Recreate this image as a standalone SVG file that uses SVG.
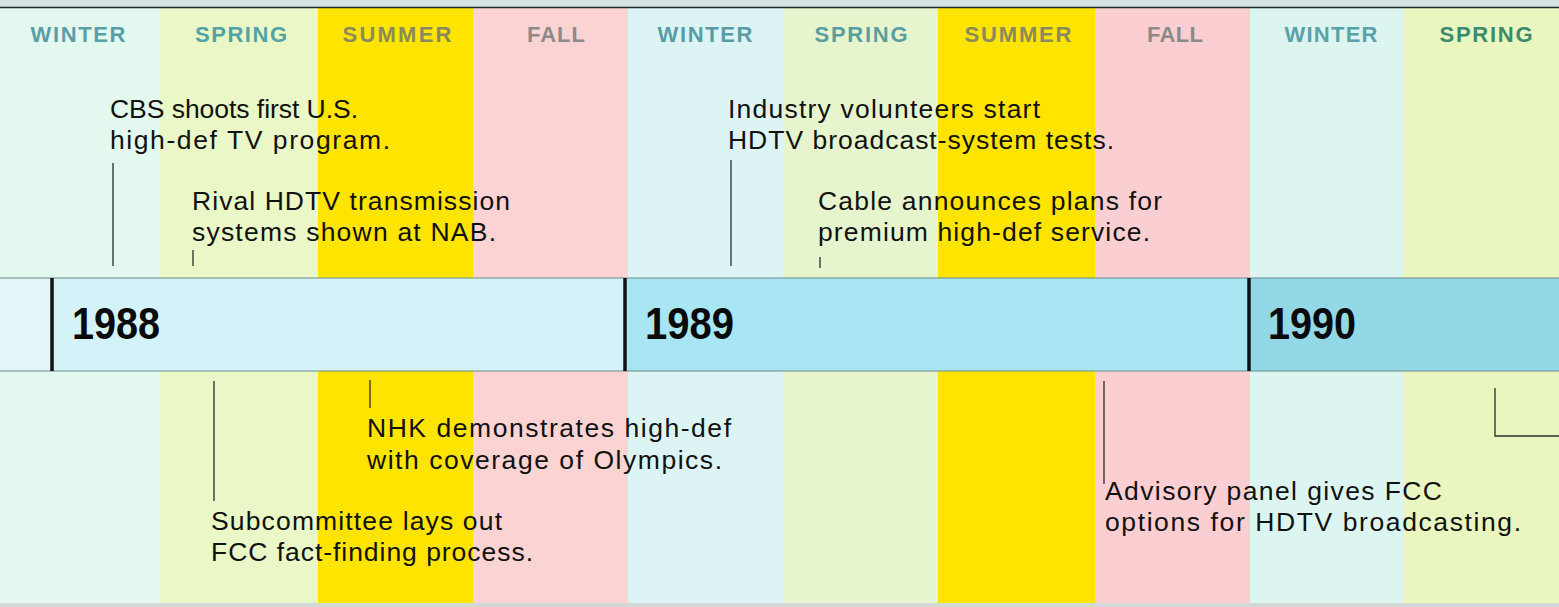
<svg xmlns="http://www.w3.org/2000/svg" width="1559" height="607" viewBox="0 0 1559 607">
  <style>
    .season { font-family: "Liberation Sans", Arial, sans-serif; font-weight: bold; font-size: 22px; text-anchor: middle; }
    .event { font-family: "Liberation Sans", Arial, sans-serif; font-size: 26.5px; fill: #111; }
    .year { font-family: "Liberation Sans", Arial, sans-serif; font-weight: bold; font-size: 44px; fill: #0a0a0a; }
    .lead { stroke: #2a2a2a; stroke-width: 1.3; fill: none; }
    .tick { stroke: #111; stroke-width: 3.5; }
  </style>

  <!-- season columns -->
  <g id="seasons">
    <rect x="0" y="0" width="160" height="607" fill="#e3f8ee"/>
    <rect x="160" y="0" width="158" height="607" fill="#eaf7c6"/>
    <rect x="318" y="0" width="155" height="607" fill="#ffe400"/>
    <rect x="473" y="0" width="155" height="607" fill="#fbd3d3"/>
    <rect x="628" y="0" width="155" height="607" fill="#dcf4f3"/>
    <rect x="783" y="0" width="155" height="607" fill="#e6f5cd"/>
    <rect x="938" y="0" width="157" height="607" fill="#ffe400"/>
    <rect x="1095" y="0" width="155" height="607" fill="#fbcfd1"/>
    <rect x="1250" y="0" width="153" height="607" fill="#dcf5f1"/>
    <rect x="1403" y="0" width="156" height="607" fill="#eaf6c0"/>
  </g>

  <!-- top and bottom edges -->
  <rect x="0" y="0" width="1559" height="7" fill="#d6e2e4"/>
  <line x1="0" y1="7.5" x2="1559" y2="7.5" stroke="#1e2a2a" stroke-width="1.6"/>
  <rect x="0" y="603" width="1559" height="4" fill="#d4d8d6"/>

  <!-- season labels -->
  <g id="season-labels">
    <text class="season" x="78" y="42" textLength="95" fill="#5a9fa8">WINTER</text>
    <text class="season" x="241" y="42" textLength="92" fill="#52a2a6">SPRING</text>
    <text class="season" x="397" y="42" textLength="109" fill="#8a8a5c">SUMMER</text>
    <text class="season" x="556" y="42" textLength="58" fill="#8c8a8a">FALL</text>
    <text class="season" x="705" y="42" textLength="95" fill="#5a9ca6">WINTER</text>
    <text class="season" x="861" y="42" textLength="93" fill="#5a9ea0">SPRING</text>
    <text class="season" x="1018" y="42" textLength="107" fill="#8a8a5c">SUMMER</text>
    <text class="season" x="1175" y="42" textLength="56" fill="#8c8a8a">FALL</text>
    <text class="season" x="1331" y="42" textLength="93" fill="#5aa2a8">WINTER</text>
    <text class="season" x="1486" y="42" textLength="93" fill="#3d8a6c">SPRING</text>
  </g>

  <!-- year band -->
  <g id="year-band">
    <rect x="0" y="278" width="52" height="93" fill="#e2f6f8"/>
    <rect x="52" y="278" width="573" height="93" fill="#d4f3f9"/>
    <rect x="625" y="278" width="624" height="93" fill="#a8e6f3"/>
    <rect x="1249" y="278" width="310" height="93" fill="#93d8e6"/>
    <line x1="0" y1="278" x2="1559" y2="278" stroke="#6a8a88" stroke-width="1"/>
    <line x1="0" y1="371" x2="1559" y2="371" stroke="#6a8a88" stroke-width="1"/>
  </g>

  <g id="y1988">
    <line class="tick" x1="52" y1="278" x2="52" y2="371"/>
    <text class="year" x="72" y="339" textLength="88" lengthAdjust="spacingAndGlyphs">1988</text>
  </g>
  <g id="y1989">
    <line class="tick" x1="625" y1="278" x2="625" y2="371"/>
    <text class="year" x="645" y="339" textLength="89" lengthAdjust="spacingAndGlyphs">1989</text>
  </g>
  <g id="y1990">
    <line class="tick" x1="1249" y1="278" x2="1249" y2="371"/>
    <text class="year" x="1268" y="339" textLength="88" lengthAdjust="spacingAndGlyphs">1990</text>
  </g>

  <!-- leader lines -->
  <g id="connectors">
    <line class="lead" x1="113" y1="163" x2="113" y2="266"/>
    <line class="lead" x1="193" y1="250" x2="193" y2="266"/>
    <line class="lead" x1="731" y1="160" x2="731" y2="266"/>
    <line class="lead" x1="820" y1="257" x2="820" y2="268"/>
    <line class="lead" x1="214" y1="381" x2="214" y2="501"/>
    <line class="lead" x1="370" y1="380" x2="370" y2="408"/>
    <line class="lead" x1="1104" y1="381" x2="1104" y2="484" stroke="#5a2a20"/>
    <polyline class="lead" points="1495,388 1495,436 1559,436" stroke="#2f6a2a"/>
  </g>

  <!-- events -->
  <g id="ev-cbs">
    <text class="event" x="110" y="118" textLength="248">CBS shoots first U.S.</text>
    <text class="event" x="110" y="149" textLength="280">high-def TV program.</text>
  </g>
  <g id="ev-nab">
    <text class="event" x="192" y="210" textLength="318">Rival HDTV transmission</text>
    <text class="event" x="192" y="241" textLength="304">systems shown at NAB.</text>
  </g>
  <g id="ev-industry">
    <text class="event" x="728" y="118" textLength="312">Industry volunteers start</text>
    <text class="event" x="728" y="149" textLength="386">HDTV broadcast-system tests.</text>
  </g>
  <g id="ev-cable">
    <text class="event" x="818" y="210" textLength="344">Cable announces plans for</text>
    <text class="event" x="818" y="241" textLength="332">premium high-def service.</text>
  </g>
  <g id="ev-nhk">
    <text class="event" x="367" y="437" textLength="364">NHK demonstrates high-def</text>
    <text class="event" x="367" y="469" textLength="355">with coverage of Olympics.</text>
  </g>
  <g id="ev-subcommittee">
    <text class="event" x="211" y="530" textLength="291">Subcommittee lays out</text>
    <text class="event" x="211" y="561" textLength="322">FCC fact-finding process.</text>
  </g>
  <g id="ev-advisory">
    <text class="event" x="1105" y="500" textLength="337">Advisory panel gives FCC</text>
    <text class="event" x="1105" y="531" textLength="416">options for HDTV broadcasting.</text>
  </g>
</svg>
